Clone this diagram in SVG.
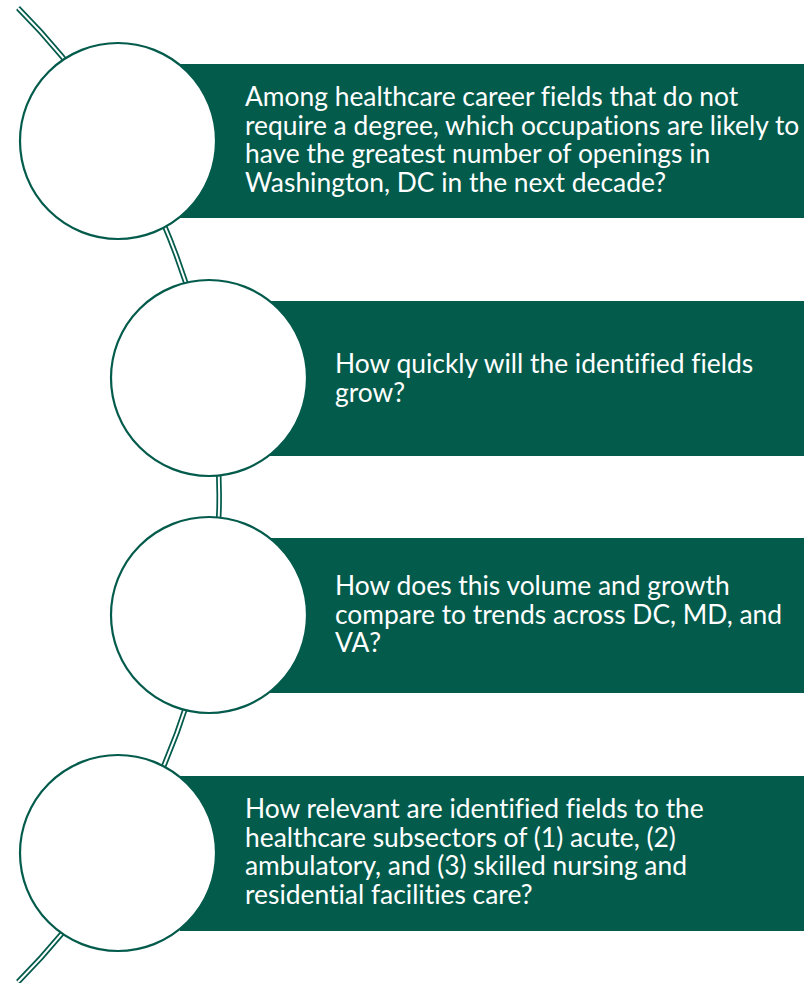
<svg xmlns="http://www.w3.org/2000/svg" width="804" height="983" viewBox="0 0 804 983">
  <style>
    .rail-outer { fill: none; stroke: #035B4C; stroke-width: 5.5; }
    .rail-inner { fill: none; stroke: #ffffff; stroke-width: 2; }
    .bar { fill: #035B4C; }
    .dot { fill: #ffffff; stroke: #035B4C; stroke-width: 2.2; }
    .label { font-family: Lato, "Open Sans", sans-serif; font-size: 26.4px; fill: #ffffff; font-variant-ligatures: none; }
  </style>

  <!-- curved double rail running behind the circles -->
  <g id="connectors">
    <path class="rail-outer" d="M 18 8 A 690 690 0 0 1 18 982"/>
    <path class="rail-inner" d="M 18 8 A 690 690 0 0 1 18 982"/>
  </g>

  <g id="step1">
    <rect class="bar" x="180" y="64" width="624" height="154"/>
    <circle class="dot" cx="118" cy="141" r="98"/>
    <text class="label">
      <tspan x="245" y="106">Among healthcare career fields that do not</tspan>
      <tspan x="245" y="134.5">require a degree, which occupations are likely to</tspan>
      <tspan x="245" y="163">have the greatest number of openings in</tspan>
      <tspan x="245" y="191.5">Washington, DC in the next decade?</tspan>
    </text>
  </g>

  <g id="step2">
    <rect class="bar" x="270" y="301" width="534" height="155"/>
    <circle class="dot" cx="209" cy="378" r="98"/>
    <text class="label">
      <tspan x="335" y="373">How quickly will the identified fields</tspan>
      <tspan x="335" y="401.5">grow?</tspan>
    </text>
  </g>

  <g id="step3">
    <rect class="bar" x="270" y="538" width="534" height="155"/>
    <circle class="dot" cx="209" cy="615" r="98"/>
    <text class="label">
      <tspan x="335" y="595">How does this volume and growth</tspan>
      <tspan x="335" y="623.5">compare to trends across DC, MD, and</tspan>
      <tspan x="335" y="652">VA?</tspan>
    </text>
  </g>

  <g id="step4">
    <rect class="bar" x="180" y="776" width="624" height="155"/>
    <circle class="dot" cx="118" cy="853" r="98"/>
    <text class="label">
      <tspan x="245" y="818">How relevant are identified fields to the</tspan>
      <tspan x="245" y="846.5">healthcare subsectors of (1) acute, (2)</tspan>
      <tspan x="245" y="875">ambulatory, and (3) skilled nursing and</tspan>
      <tspan x="245" y="903.5">residential facilities care?</tspan>
    </text>
  </g>
</svg>
